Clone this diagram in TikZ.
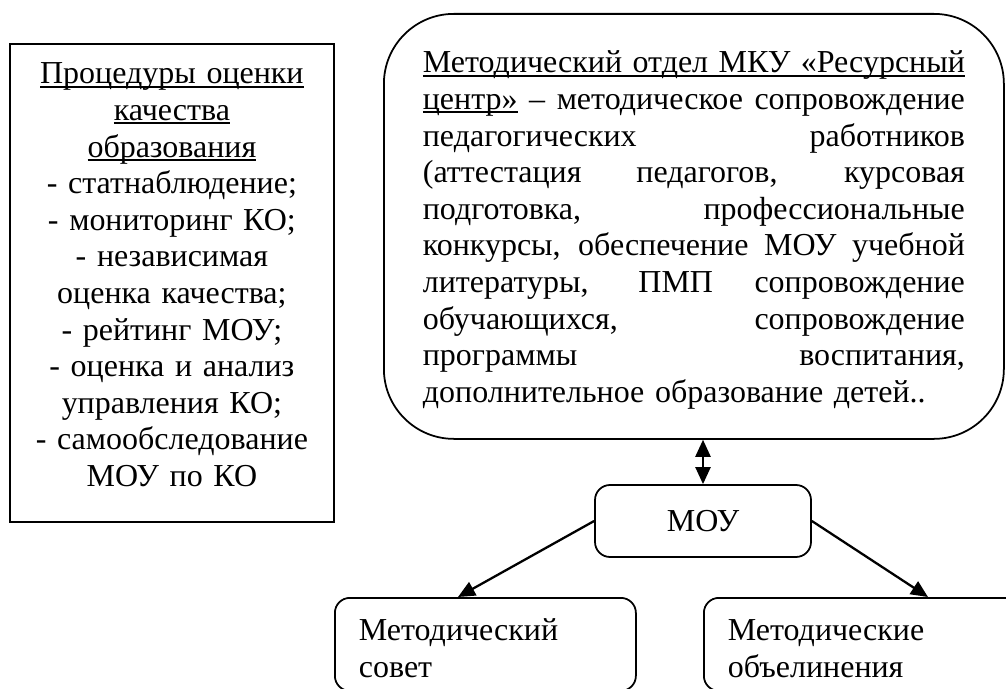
\documentclass[tikz,border=0pt]{standalone}
\usepackage{fontspec}
\setmainfont{Liberation Serif}
\usetikzlibrary{arrows.meta,calc}
\newcommand{\bodyfont}{\fontsize{18.2pt}{20.83pt}\selectfont}
\newsavebox\ulsave
\newcommand{\ulin}[1]{\leavevmode\sbox\ulsave{#1}\rlap{\rule[-0.12em]{\wd\ulsave}{0.06em}}\usebox\ulsave}
\newcommand{\jl}[1]{\leavevmode\hbox to\linewidth{\spaceskip=0pt\xspaceskip=0pt #1}}
\tikzset{
  >={Triangle[length=0.34cm,width=0.3cm]},
  panel/.style={draw, line width=1pt, anchor=north west, font=\bodyfont,
              text width=6.08cm, inner xsep=0.2cm, inner ysep=0.2cm, align=center,
              text height=0.6cm, text depth=8.56cm},
  dept/.style={draw, line width=1pt, rounded corners=1.4cm, anchor=north west, font=\bodyfont,
              text width=10.84cm, inner xsep=0.78cm, inner ysep=0.2cm, align=left,
              text height=0.98cm, text depth=7.12cm},
  unit/.style={draw, line width=1pt, rounded corners=0.3cm, minimum width=4.32cm,
              minimum height=1.44cm, font=\bodyfont},
  sub/.style={draw, line width=1pt, rounded corners=0.3cm, anchor=north west, font=\bodyfont,
              inner xsep=0.48cm, inner ysep=0.2cm, align=left,
              text height=0.66cm, text depth=0.8cm},
  link/.style={->, line width=1.3pt},
}
\begin{document}
\begin{tikzpicture}
  \useasboundingbox (0,0) rectangle (20.12,13.76);
  % procedures of quality assessment
  \node[panel] (proc) at (0.18,12.9) {\ulin{Процедуры оценки}\\ \ulin{качества}\\ \ulin{образования}\\
    - статнаблюдение;\\ - мониторинг КО;\\ - независимая\\ оценка качества;\\ - рейтинг МОУ;\\
    - оценка и анализ\\ управления КО;\\ - самообследование\\ МОУ по КО};
  % methodical department
  \node[dept] (mc) at (7.66,13.5) {\ulin{\jl{Методический отдел МКУ «Ресурсный}}\\
    \jl{\ulin{центр»} – методическое сопровождение}\\
    \jl{педагогических работников}\\
    \jl{(аттестация педагогов, курсовая}\\
    \jl{подготовка, профессиональные}\\
    \jl{конкурсы, обеспечение МОУ учебной}\\
    \jl{литературы, ПМП сопровождение}\\
    \jl{обучающихся, сопровождение}\\
    \jl{программы воспитания,}\\
    дополнительное образование детей..};
  \node[unit] (mou) at (14.06,3.34) {МОУ};
  \node[sub, text width=5.06cm] (ms) at (6.68,1.82) {Методический\\совет};
  \node[sub, text width=5.5cm] (mo) at (14.06,1.82) {Методические\\объелинения};
  \draw[link,<->] (mou.north) -- (mou.north |- mc.south);
  \draw[link] (mou.west) -- ($(ms.north west)+(2.48,0)$);
  \draw[link] (mou.east) -- ($(mo.north west)+(4.5,0)$);
\end{tikzpicture}
\end{document}
